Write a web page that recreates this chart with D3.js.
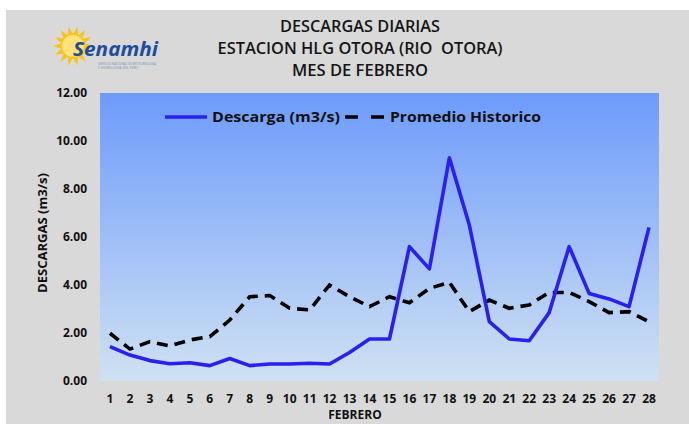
<!DOCTYPE html>
<html><head><meta charset="utf-8">
<script src="https://cdn.jsdelivr.net/npm/d3@7"></script>
<style>html,body{margin:0;padding:0;background:#fff;}svg{display:block;}</style>
</head><body>
<script>
const days = d3.range(1, 29).map(String);
const descarga = [1.43,1.08,0.85,0.72,0.76,0.64,0.94,0.64,0.71,0.71,0.74,0.71,1.19,1.75,1.75,5.6,4.67,9.3,6.5,2.47,1.75,1.68,2.85,5.6,3.65,3.42,3.1,6.4];
const promedio = [1.99,1.33,1.64,1.46,1.71,1.85,2.54,3.51,3.56,3.03,2.96,4.0,3.51,3.1,3.51,3.26,3.86,4.11,2.89,3.37,3.03,3.17,3.69,3.69,3.31,2.85,2.89,2.47];
const yTicks = [0,2,4,6,8,10,12];
const titles = ["DESCARGAS DIARIAS","ESTACION HLG OTORA (RIO  OTORA)","MES DE FEBRERO"];
const legendLabels = ["Descarga (m3/s)","Promedio Historico"];

const W = 689, H = 424;
const svg = d3.select("body").append("svg").attr("width", W).attr("height", H);
const F = "'Open Sans', 'DejaVu Sans', sans-serif";

svg.append("rect").attr("x",6).attr("y",10).attr("width",W-6).attr("height",H-10).attr("fill","#d9d9d9");

const m = {l:100, r:659, t:93, b:381};
const x = d3.scaleBand().domain(days).range([m.l, m.r]);
const y = d3.scaleLinear().domain([0,12]).range([m.b, m.t]);

const defs = svg.append("defs");
const g = defs.append("linearGradient").attr("id","bg").attr("x1",0).attr("y1",0).attr("x2",0).attr("y2",1);
g.append("stop").attr("offset","0%").attr("stop-color","#6d9bfb");
g.append("stop").attr("offset","100%").attr("stop-color","#cfe1f2");
svg.append("rect").attr("x",m.l).attr("y",m.t).attr("width",m.r-m.l).attr("height",m.b-m.t).attr("fill","url(#bg)");

// titles
const tw = [160, 285, 136];
const ty = [32, 54, 76];
titles.forEach((t,i)=>{
  svg.append("text").attr("x",360).attr("y",ty[i]).attr("text-anchor","middle")
    .style("white-space","pre")
    .attr("font-family",F).attr("font-weight",600).attr("font-size",17).attr("fill","#151515")
    .attr("textLength",tw[i]).attr("lengthAdjust","spacingAndGlyphs").text(t);
});

// logo
const logo = svg.append("g").attr("transform","translate(73,46)");
const pts = [];
const nr = 14;
for (let i=0;i<nr*2;i++){
  const a = Math.PI*i/nr;
  const r = i%2===0 ? 20 : 12;
  pts.push([r*Math.cos(a), r*Math.sin(a)]);
}
logo.append("path").attr("d", d3.line().curve(d3.curveLinearClosed)(pts)).attr("fill","#f7c31c");
logo.append("circle").attr("r",11).attr("fill","#fde37a");
svg.append("text").attr("x",73).attr("y",56).attr("font-family",F).attr("font-weight","bold").attr("font-style","italic")
  .attr("font-size",19).attr("fill","#1f4d99").attr("textLength",85).attr("lengthAdjust","spacingAndGlyphs").text("Senamhi");
svg.append("text").attr("x",98).attr("y",65).attr("font-family",F).attr("font-size",3).attr("fill","#7a8fb8")
  .attr("textLength",58).attr("lengthAdjust","spacingAndGlyphs").text("SERVICIO NACIONAL DE METEOROLOGIA");
svg.append("text").attr("x",98).attr("y",69).attr("font-family",F).attr("font-size",3).attr("fill","#7a8fb8")
  .attr("textLength",40).attr("lengthAdjust","spacingAndGlyphs").text("E HIDROLOGIA DEL PERU");

// y axis
const yAxis = d3.axisLeft(y).tickValues(yTicks).tickFormat(d3.format(".2f")).tickSize(0).tickPadding(13);
const ya = svg.append("g").attr("transform",`translate(${m.l},0)`).call(yAxis);
ya.select(".domain").remove();
ya.selectAll("text").attr("font-family",F).attr("font-weight","bold").attr("font-size",12).attr("fill","#111");

// x axis
const xAxis = d3.axisBottom(x).tickSize(0).tickPadding(13);
const xa = svg.append("g").attr("transform",`translate(0,${m.b})`).call(xAxis);
xa.select(".domain").remove();
xa.selectAll("text").attr("font-family",F).attr("font-weight","bold").attr("font-size",12).attr("fill","#111");

svg.append("text").attr("x",355).attr("y",419).attr("text-anchor","middle").attr("font-family",F)
  .attr("font-weight","bold").attr("font-size",12).attr("fill","#111").text("FEBRERO");
svg.append("text").attr("transform","translate(47,233) rotate(-90)").attr("text-anchor","middle").attr("font-family",F)
  .attr("font-weight","bold").attr("font-size",12).attr("fill","#111").attr("textLength",120).attr("lengthAdjust","spacingAndGlyphs").text("DESCARGAS (m3/s)");

const line = d3.line().x((d,i)=>x(days[i])+x.bandwidth()/2).y(d=>y(d));
svg.append("path").datum(promedio).attr("d",line).attr("fill","none").attr("stroke","#000")
  .attr("stroke-width",3.6).attr("stroke-dasharray","11,7");
svg.append("path").datum(descarga).attr("d",line).attr("fill","none").attr("stroke","#2a1ff0")
  .attr("stroke-width",3.6).attr("stroke-linejoin","round");

// legend
svg.append("line").attr("x1",165).attr("x2",207).attr("y1",117).attr("y2",117).attr("stroke","#2a1ff0").attr("stroke-width",3.6);
svg.append("text").attr("x",212).attr("y",122).attr("font-family",F).attr("font-weight","bold").attr("font-size",15).attr("fill","#111")
  .attr("textLength",128).attr("lengthAdjust","spacingAndGlyphs").text(legendLabels[0]);
svg.append("line").attr("x1",345).attr("x2",385).attr("y1",117).attr("y2",117).attr("stroke","#000").attr("stroke-width",3.6).attr("stroke-dasharray","13,13");
svg.append("text").attr("x",390).attr("y",122).attr("font-family",F).attr("font-weight","bold").attr("font-size",15).attr("fill","#111")
  .attr("textLength",151).attr("lengthAdjust","spacingAndGlyphs").text(legendLabels[1]);
</script>
</body></html>
